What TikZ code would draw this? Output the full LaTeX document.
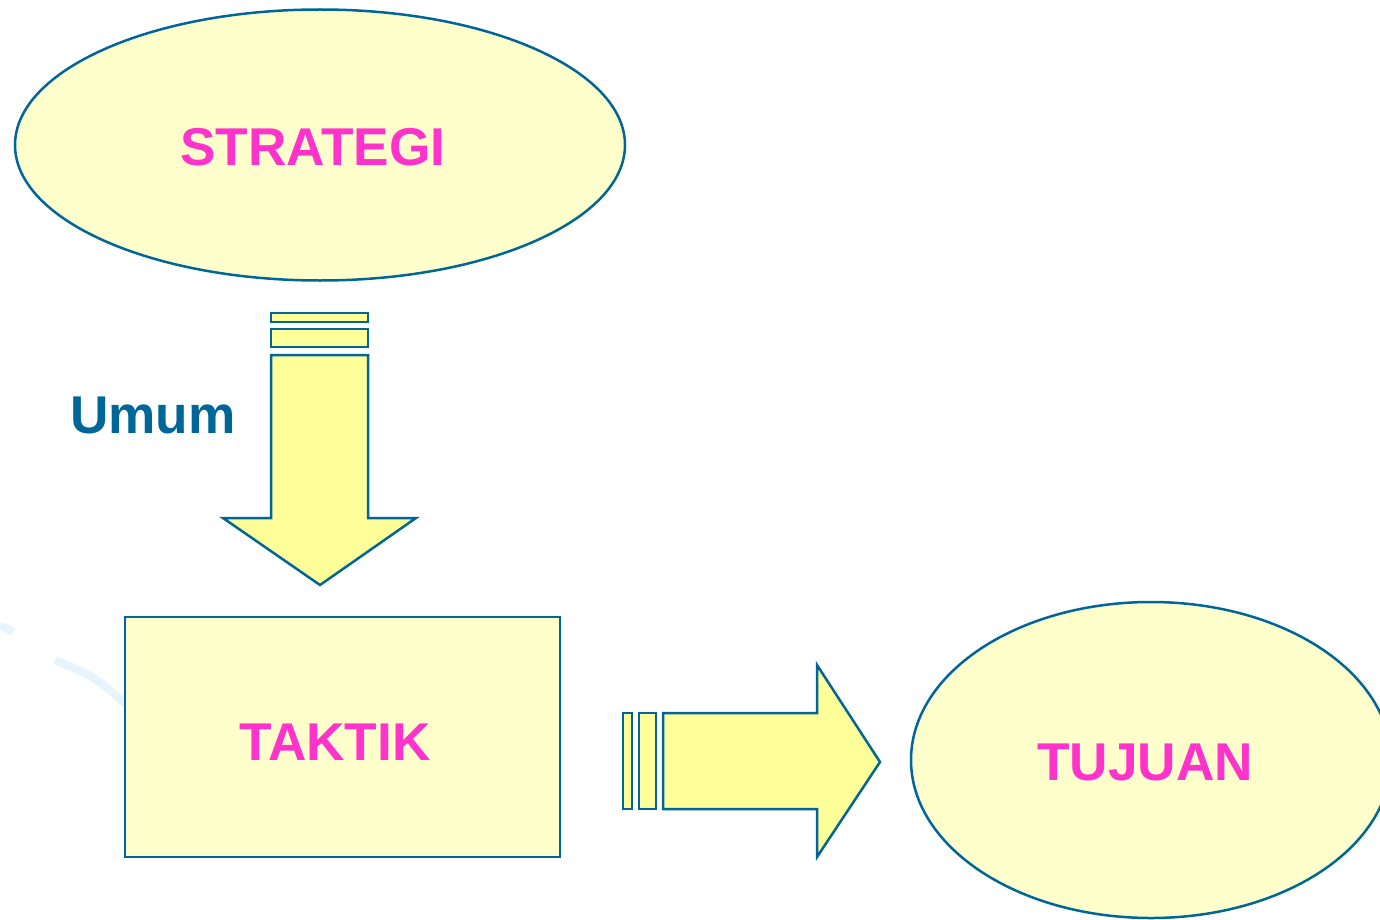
\documentclass[tikz,border=0pt]{standalone}
\usepackage{fontspec}
\setmainfont{Liberation Sans}
\usepackage{tikz}
\usetikzlibrary{shapes.geometric, positioning}
\definecolor{edgeblue}{HTML}{006699}
\definecolor{paleyellow}{HTML}{FFFFCC}
\definecolor{arrowyellow}{HTML}{FFFF99}
\definecolor{titlepink}{HTML}{FF33CC}
\definecolor{swooshblue}{HTML}{E8F4FD}

\begin{document}
\begin{tikzpicture}[
    x=0.5pt, y=-0.5pt,
    oval/.style={ellipse, draw=edgeblue, fill=paleyellow, line width=1.25pt, inner sep=0pt},
    box/.style={rectangle, draw=edgeblue, fill=paleyellow, line width=1.25pt, inner sep=0pt},
    title/.style={text=titlepink, font=\fontsize{26.6}{30}\selectfont\bfseries},
    blockarrow/.style={draw=edgeblue, fill=arrowyellow, line width=1.25pt},
    swoosh/.style={draw=swooshblue, line width=4pt},
    every node/.append style={font=\fontsize{26.6}{30}\selectfont\bfseries}
]
    \useasboundingbox (0,0) rectangle (1380,920);
    \fill[white] (0,0) rectangle (1380,920);

    % Background swoosh
    \draw[swoosh] (0,626) .. controls (6,628) .. (13,632);
    \draw[swoosh] (55,660) .. controls (95,677) .. (128,706);

    % Components
    \node[oval, minimum width=305pt, minimum height=135.5pt] (strategi) at (320,145) {};
    \node[title] at (313,147) {STRATEGI};
    \node[box, minimum width=217.5pt, minimum height=120pt] (taktik) at (342.5,737) {};
    \node[title] at (335,742) {TAKTIK};
    \node[oval, minimum width=240pt, minimum height=158pt] (tujuan) at (1151,760) {};
    \node[title] at (1145,762) {TUJUAN};
    \node[text=edgeblue] (umum) at (153,415) {Umum};

    % Striped arrow down
    \draw[blockarrow] (271,313) rectangle (368,322);
    \draw[blockarrow] (271,329) rectangle (368,347);
    \draw[blockarrow] (271,355) -- (368,355) -- (368,518) -- (416,518)
        -- (320,585) -- (223,518) -- (271,518) -- cycle;

    % Striped arrow right
    \draw[blockarrow] (623,713) rectangle (632,809);
    \draw[blockarrow] (639,713) rectangle (656,809);
    \draw[blockarrow] (663,713) -- (817,713) -- (817,665) -- (880,762)
        -- (817,857) -- (817,809) -- (663,809) -- cycle;

\end{tikzpicture}
\end{document}
